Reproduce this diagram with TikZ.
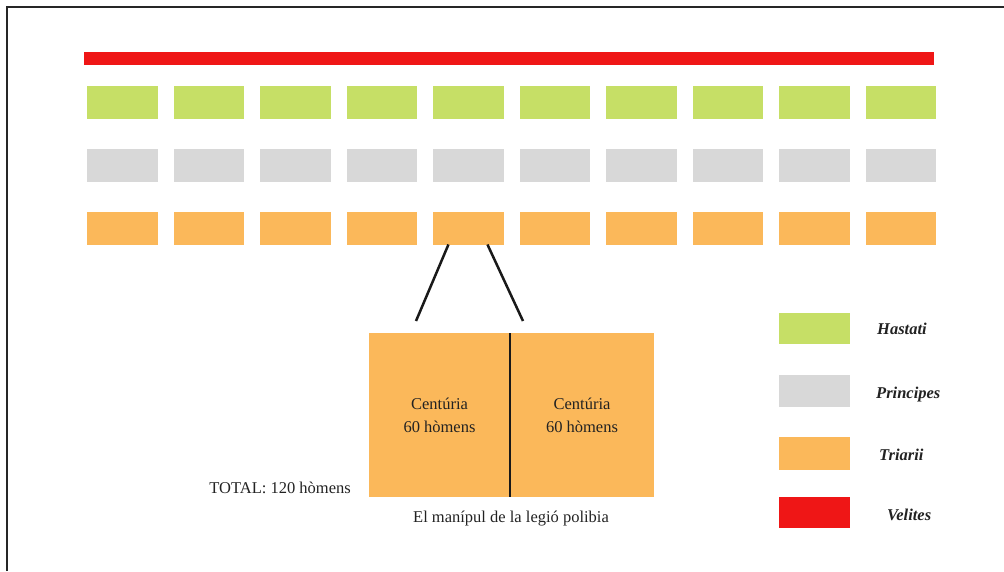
\documentclass[tikz,border=0pt]{standalone}
\usepackage{fontspec}
\setmainfont{Liberation Serif}
\definecolor{hgreen}{HTML}{C6DF66}
\definecolor{pgray}{HTML}{D8D8D8}
\definecolor{torange}{HTML}{FBB85A}
\definecolor{vred}{HTML}{EF1616}
\definecolor{txt}{HTML}{222222}
\begin{document}
\begin{tikzpicture}[x=1pt,y=-1pt,
  box/.style={inner sep=0pt,outer sep=0pt,minimum width=70.5pt,minimum height=32.5pt,anchor=north west},
  lab/.style={text=txt,font=\fontsize{16.5}{23}\selectfont,inner sep=0pt},
  leg/.style={text=txt,font=\fontsize{16.5}{20}\selectfont\itshape\bfseries,inner sep=0pt,anchor=west},
  conn/.style={line width=2.5pt,black!90}]
\useasboundingbox (0,0) rectangle (1004,571);
% frame
\draw[line width=2pt,black!85] (7,571) -- (7,7) -- (1004,7);
% velites bar
\node[box,fill=vred,minimum width=850pt,minimum height=13pt] (vel) at (84,52) {};
% rows
\foreach \i in {0,...,9}{
  \node[box,fill=hgreen] (h\i) at ({87+86.55*\i},86) {};
  \node[box,fill=pgray] (p\i) at ({87+86.55*\i},149) {};
  \node[box,fill=torange] (t\i) at ({87+86.55*\i},212) {};
}
% manipulus
\node[inner sep=0pt,outer sep=0pt,fill=torange,minimum width=141pt,minimum height=164pt,anchor=north west,lab,align=center] (c1) at (369,333) {Centúria\\60 hòmens};
\node[inner sep=0pt,outer sep=0pt,fill=torange,minimum width=144pt,minimum height=164pt,anchor=north west,lab,align=center] (c2) at (510,333) {Centúria\\60 hòmens};
\draw[conn] (c1.north east) -- (c1.south east);
\coordinate (lend) at (416,321);
\coordinate (rend) at (523,321);
\draw[conn] ([xshift=-20pt]t4.south) -- (lend);
\draw[conn] ([xshift=19pt]t4.south) -- (rend);
\node[lab,anchor=east] (total) at (351,488) {TOTAL: 120 hòmens};
\node[lab] (cap) at (511,519) {El manípul de la legió polibia};
% legend
\node[box,fill=hgreen,minimum width=71pt,minimum height=31pt] (lh) at (779,313) {};
\node[box,fill=pgray,minimum width=71pt,minimum height=32pt] (lp) at (779,375) {};
\node[box,fill=torange,minimum width=71pt,minimum height=33pt] (lt) at (779,437) {};
\node[box,fill=vred,minimum width=71pt,minimum height=31pt] (lv) at (779,497) {};
\node[leg] (lhl) at (877,329) {Hastati};
\node[leg] (lpl) at (876,395) {Principes};
\node[leg] (ltl) at (879,455) {Triarii};
\node[leg] (lvl) at (887,515) {Velites};
\end{tikzpicture}
\end{document}
